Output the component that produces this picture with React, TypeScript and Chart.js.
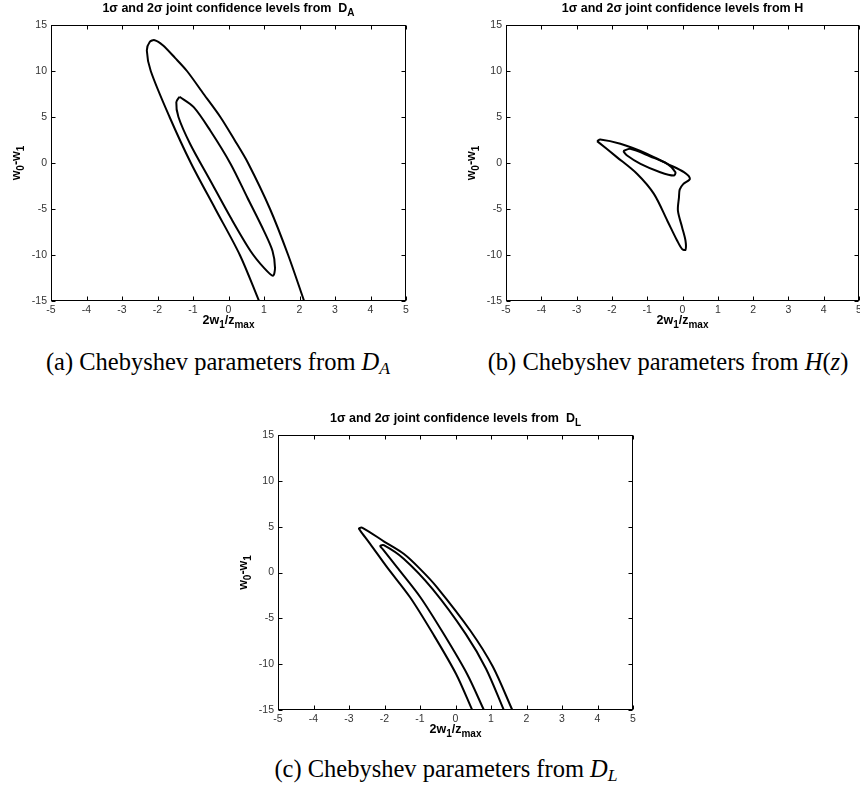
import React, { useEffect, useRef } from 'react';
import { Chart, registerables } from 'chart.js';
Chart.register(...registerables);

type Pt = [number, number];
type Piece = { t: string; sub?: boolean };

// ---- axis ticks ----
const X_TICKS = [-5, -4, -3, -2, -1, 0, 1, 2, 3, 4, 5];
const Y_TICKS = [-15, -10, -5, 0, 5, 10, 15];

// ---- panel (a): confidence contours from D_A ----
const aOuter: Pt[] = [
  [0.86, -15], [0.32, -10], [-0.37, -5], [-1.06, 0], [-1.66, 5], [-2.19, 10], [-2.3, 12.2],
  [-2.22, 13.15], [-2.08, 13.35], [-1.85, 12.8], [-1.5, 11.4], [-1.17, 10], [-0.7, 7.5],
  [-0.23, 5], [0.17, 2.5], [0.55, 0], [1.17, -5], [1.68, -10], [2.13, -15],
];
const aInner: Pt[] = [
  [-1.38, 7.2], [-0.98, 6.07], [-0.51, 3.5], [0.06, -0.1], [0.53, -3.75], [1.0, -7.4],
  [1.24, -9.56], [1.31, -11.4], [1.25, -12.25], [1.0, -11.4], [0.62, -9.56], [0.06, -5.93],
  [-0.51, -1.93], [-1.08, 2.07], [-1.41, 5.0], [-1.47, 6.6], [-1.38, 7.2],
];

// ---- panel (b): confidence contours from H ----
const bOuter: Pt[] = [
  [-2.42, 2.38], [-2.33, 2.56], [-1.76, 2.09], [-1.0, 1.0], [-0.43, -0.09], [0.04, -1.0],
  [0.21, -1.73], [0.02, -2.3], [-0.08, -2.9], [-0.1, -3.73], [-0.13, -5.18], [-0.01, -7.0],
  [0.085, -8.45], [0.085, -9.43], [-0.01, -9.36], [-0.15, -8.45], [-0.43, -6.27],
  [-0.81, -3.36], [-1.29, -1.17], [-1.86, 0.64], [-2.42, 2.38],
];
const bInner: Pt[] = [
  [-1.68, 1.29], [-1.48, 1.55], [-0.91, 0.71], [-0.43, -0.09], [-0.2, -1.0], [-0.25, -1.36],
  [-0.63, -1.0], [-1.19, -0.09], [-1.57, 0.82], [-1.68, 1.29],
];

// ---- panel (c): confidence contours from D_L ----
const cOuter: Pt[] = [
  [0.47, -15], [0.02, -11.1], [-0.63, -6.72], [-1.28, -2.7], [-1.93, 0.58], [-2.4, 3.1],
  [-2.68, 4.55], [-2.72, 4.8], [-2.62, 4.88], [-2.0, 3.35], [-1.46, 2.04], [-1.0, 0.4],
  [-0.52, -1.61], [0.42, -6.35], [1.05, -10.26], [1.6, -15],
];
const cInner: Pt[] = [
  [0.8, -15], [0.33, -11.1], [-0.33, -6.72], [-0.99, -2.7], [-1.65, 0.58], [-2.05, 2.55],
  [-2.12, 2.9], [-2.02, 2.98], [-1.46, 1.5], [-0.65, -1.79], [0.29, -6.72], [0.86, -10.5],
  [1.36, -15],
];

// ---- texts ----
const TITLE_A: Piece[] = [{ t: '1σ and 2σ joint confidence levels from  D' }, { t: 'A', sub: true }];
const TITLE_B: Piece[] = [{ t: '1σ and 2σ joint confidence levels from H' }];
const TITLE_C: Piece[] = [{ t: '1σ and 2σ joint confidence levels from  D' }, { t: 'L', sub: true }];
const X_LABEL: Piece[] = [{ t: '2w' }, { t: '1', sub: true }, { t: '/z' }, { t: 'max', sub: true }];
const Y_LABEL: Piece[] = [{ t: 'w' }, { t: '0', sub: true }, { t: '-w' }, { t: '1', sub: true }];

const FONT = '"Liberation Sans", Arial, sans-serif';
const MAIN_FONT = `bold 12.5px ${FONT}`;
const SUB_FONT = `bold 10px ${FONT}`;

function richWidth(ctx: CanvasRenderingContext2D, pieces: Piece[]) {
  let w = 0;
  for (const p of pieces) {
    ctx.font = p.sub ? SUB_FONT : MAIN_FONT;
    w += ctx.measureText(p.t).width;
  }
  return w;
}
function drawRich(ctx: CanvasRenderingContext2D, pieces: Piece[], x: number, y: number) {
  let cx = x;
  for (const p of pieces) {
    ctx.font = p.sub ? SUB_FONT : MAIN_FONT;
    ctx.fillText(p.t, cx, p.sub ? y + 4 : y);
    cx += ctx.measureText(p.t).width;
  }
}

const framePlugin = {
  id: 'frame',
  afterDraw(chart: any) {
    const o = chart.options.plugins.frame;
    const { ctx, chartArea: a } = chart;
    const xs = chart.scales.x;
    const ys = chart.scales.y;
    ctx.save();
    const L = Math.round(a.left) + 0.5;
    const R = Math.round(a.right) - 0.5;
    const T = Math.round(a.top) + 0.5;
    const B = Math.round(a.bottom) - 0.5;
    ctx.strokeStyle = '#000';
    ctx.lineWidth = 1;
    ctx.strokeRect(L, T, R - L, B - T);
    ctx.beginPath();
    for (const v of X_TICKS) {
      const px = Math.round(xs.getPixelForValue(v)) + 0.5;
      ctx.moveTo(px, B); ctx.lineTo(px, B - 4);
      ctx.moveTo(px, T); ctx.lineTo(px, T + 4);
    }
    for (const v of Y_TICKS) {
      const py = Math.round(ys.getPixelForValue(v)) + 0.5;
      ctx.moveTo(L, py); ctx.lineTo(L + 4, py);
      ctx.moveTo(R, py); ctx.lineTo(R - 4, py);
    }
    ctx.stroke();
    ctx.fillStyle = '#000';
    ctx.textBaseline = 'alphabetic';
    ctx.textAlign = 'left';
    const cx = (a.left + a.right) / 2;
    const tw = richWidth(ctx, o.title);
    drawRich(ctx, o.title, cx - tw / 2, a.top - 13);
    const xw = richWidth(ctx, X_LABEL);
    drawRich(ctx, X_LABEL, cx - xw / 2, a.bottom + 23);
    ctx.translate(a.left - 31, (a.top + a.bottom) / 2);
    ctx.rotate(-Math.PI / 2);
    const yw = richWidth(ctx, Y_LABEL);
    drawRich(ctx, Y_LABEL, -yw / 2, 0);
    ctx.restore();
  },
};

type Area = { l: number; t: number; r: number; b: number };

function Panel(props: { left: number; top: number; width: number; height: number; area: Area; curves: Pt[][]; title: Piece[] }) {
  const ref = useRef<HTMLCanvasElement>(null);
  useEffect(() => {
    const { area, width, height, curves, title } = props;
    const tickFont = { family: FONT, size: 10.5 };
    const chart = new Chart(ref.current as HTMLCanvasElement, {
      type: 'scatter',
      data: {
        datasets: curves.map((pts) => ({
          data: pts.map(([x, y]) => ({ x, y })),
          showLine: true,
          borderColor: '#000',
          borderWidth: 2,
          pointRadius: 0,
          tension: 0.3,
          fill: false,
        })),
      },
      options: {
        responsive: false,
        animation: false,
        devicePixelRatio: 1,
        layout: { padding: { left: 0, top: area.t, right: width - area.r, bottom: 0 } },
        plugins: {
          legend: { display: false },
          tooltip: { enabled: false },
          frame: { title },
        } as any,
        scales: {
          x: {
            type: 'linear', min: X_TICKS[0], max: X_TICKS[X_TICKS.length - 1],
            ticks: { stepSize: 1, autoSkip: false, padding: 3, color: '#333', font: tickFont, maxRotation: 0 },
            grid: { display: false, drawTicks: false },
            border: { display: false },
            afterFit: (s: any) => { s.height = height - area.b; s.paddingLeft = 0; s.paddingRight = 0; },
          },
          y: {
            type: 'linear', min: Y_TICKS[0], max: Y_TICKS[Y_TICKS.length - 1],
            ticks: { stepSize: 5, autoSkip: false, padding: 4, color: '#333', font: tickFont },
            grid: { display: false, drawTicks: false },
            border: { display: false },
            afterFit: (s: any) => { s.width = area.l; s.paddingTop = 0; s.paddingBottom = 0; },
          },
        },
      } as any,
      plugins: [framePlugin],
    });
    return () => chart.destroy();
  }, []);
  return (
    <canvas
      ref={ref}
      width={props.width}
      height={props.height}
      style={{ position: 'absolute', left: props.left, top: props.top, width: props.width, height: props.height }}
    />
  );
}

const capStyle = (cx: number, top: number): React.CSSProperties => ({
  position: 'absolute', left: cx - 300, width: 600, top, textAlign: 'center',
  fontFamily: '"Liberation Serif", "Times New Roman", serif', fontSize: 24.5, lineHeight: 1,
  color: '#000', whiteSpace: 'nowrap',
});
const subStyle: React.CSSProperties = { fontSize: '0.72em', position: 'relative', top: '0.25em', fontStyle: 'italic' };

export default function App() {
  return (
    <div style={{ position: 'absolute', left: 0, top: 0, width: 860, height: 791, background: '#fff', overflow: 'hidden' }}>
      <Panel left={0} top={0} width={430} height={345} area={{ l: 51, t: 25, r: 406, b: 301 }} curves={[aOuter, aInner]} title={TITLE_A} />
      <Panel left={430} top={0} width={430} height={345} area={{ l: 76, t: 25, r: 429, b: 301 }} curves={[bOuter, bInner]} title={TITLE_B} />
      <Panel left={215} top={395} width={430} height={350} area={{ l: 63, t: 40, r: 418, b: 315 }} curves={[cOuter, cInner]} title={TITLE_C} />
      <div style={capStyle(218, 350)}>(a) Chebyshev parameters from <i>D</i><span style={subStyle}>A</span></div>
      <div style={capStyle(668, 350)}>(b) Chebyshev parameters from <i>H</i>(<i>z</i>)</div>
      <div style={capStyle(446, 757)}>(c) Chebyshev parameters from <i>D</i><span style={subStyle}>L</span></div>
    </div>
  );
}
